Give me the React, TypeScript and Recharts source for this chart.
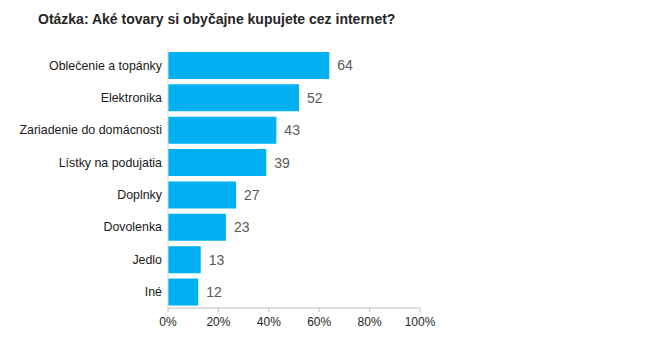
import React from "react";
import { BarChart, Bar, XAxis, YAxis, LabelList } from "recharts";

const categories = [
  "Oblečenie a topánky",
  "Elektronika",
  "Zariadenie do domácnosti",
  "Lístky na podujatia",
  "Doplnky",
  "Dovolenka",
  "Jedlo",
  "Iné",
];
const values = [64, 52, 43, 39, 27, 23, 13, 12];
const xTicks = [0, 20, 40, 60, 80, 100];

const data = categories.map((name, i) => ({ name, value: values[i] }));

const font = "Arial, 'Liberation Sans', sans-serif";

export default function App() {
  return (
    <div style={{ position: "absolute", left: 0, top: 0, width: 654, height: 343, background: "#fff", fontFamily: font }}>
      <div
        style={{
          position: "absolute",
          left: 38,
          top: 11,
          fontSize: 14,
          fontWeight: "bold",
          color: "#262626",
          whiteSpace: "nowrap",
        }}
      >
        Otázka: Aké tovary si obyčajne kupujete cez internet?
      </div>
      <BarChart
        width={654}
        height={343}
        data={data}
        layout="vertical"
        margin={{ top: 49, right: 234, bottom: 5, left: 0 }}
        barCategoryGap="9%"
      >
        <XAxis
          type="number"
          domain={[0, 100]}
          ticks={xTicks}
          tickFormatter={(v) => `${v}%`}
          axisLine={{ stroke: "#bfbfbf" }}
          tickLine={{ stroke: "#bfbfbf" }}
          tickSize={4}
          tickMargin={5}
          height={30}
          tick={{ fill: "#262626", fontSize: 12, fontFamily: font }}
          interval={0}
        />
        <YAxis
          type="category"
          dataKey="name"
          width={168}
          axisLine={{ stroke: "#d9d9d9" }}
          tickLine={false}
          tickSize={6}
          tickMargin={0}
          tick={{ fill: "#1a1a1a", fontSize: 12.4, fontFamily: font }}
          interval={0}
        />
        <Bar dataKey="value" fill="#00B0F0" isAnimationActive={false}>
          <LabelList
            dataKey="value"
            position="right"
            offset={8}
            fill="#595959"
            fontSize={14}
            fontFamily={font}
          />
        </Bar>
      </BarChart>
    </div>
  );
}
